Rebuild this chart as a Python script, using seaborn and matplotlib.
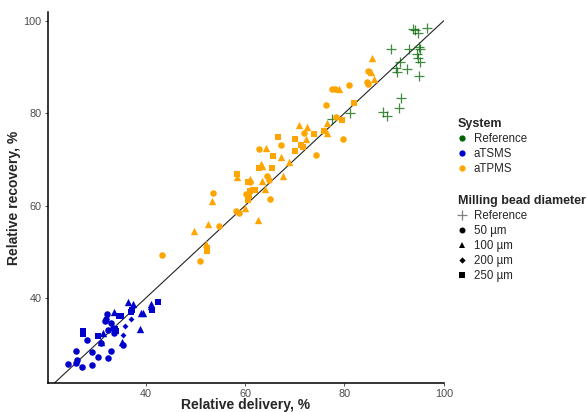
import pandas as pd
import matplotlib
matplotlib.use('Agg')
import matplotlib.pyplot as plt
import seaborn as sns
from matplotlib.lines import Line2D

# Reference system (milling bead: Reference, shown as "+")
ref_delivery = [93.8, 94.3, 94.9, 96.7, 89.4, 92.9, 95.0, 95.3, 94.6, 94.9, 95.3, 91.1,
                90.3, 90.6, 92.6, 95.1, 91.4, 91.0, 87.7, 88.6, 81.2, 77.4]
ref_recovery = [98.2, 97.9, 97.3, 98.4, 93.8, 93.8, 94.3, 93.8, 92.8, 91.9, 91.1, 91.1,
                89.7, 89.0, 89.5, 88.1, 83.2, 81.1, 80.3, 79.4, 80.0, 78.7]

# aTSMS
tsms_delivery = [24.4, 26.0, 26.2, 27.1, 25.9, 29.2, 30.3, 32.4, 29.2, 32.9, 28.2, 31.0,
                 35.3, 32.2, 32.0, 32.9, 33.3, 32.3, 33.6, 31.8,
                 36.4, 41.0, 41.0, 39.5, 33.6, 37.4, 31.3, 38.9, 35.1, 30.9, 39.0,
                 42.5, 41.3, 37.2, 37.1, 34.6, 35.0, 30.4, 34.0, 27.3, 27.3, 33.8,
                 37.0, 35.9, 35.5]
tsms_recovery = [25.7, 25.9, 26.6, 25.0, 28.6, 25.5, 27.3, 27.0, 28.4, 28.6, 31.0, 30.2,
                 29.9, 36.6, 35.4, 34.6, 33.5, 33.1, 32.5, 35.0,
                 39.1, 38.8, 38.3, 36.7, 36.9, 38.6, 32.5, 33.3, 30.4, 30.5, 36.8,
                 39.1, 37.5, 37.5, 37.0, 36.2, 36.1, 31.8, 32.8, 32.9, 32.2, 33.2,
                 35.5, 34.0, 31.9]
tsms_bead = (['50 µm'] * 20 + ['100 µm'] * 11 + ['250 µm'] * 11 + ['200 µm'] * 3)

# aTPMS
tpms_delivery = [43.2, 50.9, 54.8, 53.5, 58.1, 58.8, 60.2, 60.9, 62.8, 64.4, 65.0, 64.9,
                 67.2, 71.8, 74.3, 76.2, 78.2, 79.7, 77.5, 78.0, 81.0, 84.5, 84.8, 84.8,
                 49.6, 52.6, 53.3, 52.2, 58.4, 60.0, 60.9, 64.1, 63.1, 63.4, 62.6, 63.3,
                 63.9, 67.3, 67.6, 68.9, 70.8, 72.5, 72.3, 76.4, 76.5, 78.9, 86.0, 85.6, 85.3,
                 52.4, 52.4, 58.3, 60.5, 60.8, 61.0, 61.6, 62.0, 60.6, 62.7, 65.5, 65.6,
                 66.7, 70.1, 70.1, 71.2, 71.7, 73.8, 75.9, 79.5, 81.9]
tpms_recovery = [49.3, 48.1, 55.5, 62.8, 58.8, 58.4, 62.4, 65.1, 72.3, 66.4, 61.5, 65.5,
                 73.0, 75.7, 70.9, 81.7, 79.1, 74.4, 85.3, 85.3, 86.0, 86.8, 86.2, 89.1,
                 54.5, 56.1, 61.0, 51.6, 66.2, 59.5, 65.7, 72.5, 69.1, 68.6, 56.8, 65.3,
                 63.5, 70.5, 66.3, 69.5, 77.5, 76.9, 74.4, 77.8, 75.8, 85.2, 87.4, 91.9, 88.9,
                 50.8, 50.2, 66.9, 61.3, 62.0, 63.2, 63.4, 63.3, 65.1, 68.2, 68.1, 70.7,
                 74.8, 74.4, 71.8, 73.1, 72.6, 75.4, 76.2, 78.6, 82.3]
tpms_bead = ['50 µm'] * 24 + ['100 µm'] * 25 + ['250 µm'] * 21

systems = ['Reference', 'aTSMS', 'aTPMS']
bead_sizes = ['Reference', '50 µm', '100 µm', '200 µm', '250 µm']
x_ticks = [40, 60, 80, 100]
y_ticks = [40, 60, 80, 100]

df = pd.concat([
    pd.DataFrame({'delivery': ref_delivery, 'recovery': ref_recovery,
                  'system': 'Reference', 'bead': 'Reference'}),
    pd.DataFrame({'delivery': tsms_delivery, 'recovery': tsms_recovery,
                  'system': 'aTSMS', 'bead': tsms_bead}),
    pd.DataFrame({'delivery': tpms_delivery, 'recovery': tpms_recovery,
                  'system': 'aTPMS', 'bead': tpms_bead}),
], ignore_index=True)

sns.set_style('white')
plt.rcParams['font.family'] = ['Liberation Sans', 'DejaVu Sans']

colors = {'Reference': '#006400', 'aTSMS': '#0000CD', 'aTPMS': '#FFA500'}
markers = {'Reference': '+', '50 µm': 'o', '100 µm': '^', '200 µm': 'D', '250 µm': 's'}
sizes = {'Reference': 55, '50 µm': 22, '100 µm': 28, '200 µm': 9, '250 µm': 22}

fig = plt.figure(figsize=(5.87, 4.12), dpi=100)
ax = fig.add_axes([0.0818, 0.0704, 0.6742, 0.9006])

for (sys_name, bead), grp in df.groupby(['system', 'bead'], sort=False):
    if bead == 'Reference':
        sns.scatterplot(data=grp, x='delivery', y='recovery', ax=ax, color=colors[sys_name],
                        marker='+', s=sizes[bead], linewidth=0.9, alpha=0.75, legend=False)
    else:
        sns.scatterplot(data=grp, x='delivery', y='recovery', ax=ax, color=colors[sys_name],
                        marker=markers[bead], s=sizes[bead], linewidth=0, legend=False)

ax.axline((40, 40), (100, 100), color='#222222', lw=0.8, zorder=0)

ax.set_xlim(20.3, 100)
ax.set_ylim(21.6, 101.9)
ax.set_xticks(x_ticks)
ax.set_yticks(y_ticks)
ax.tick_params(axis='both', labelsize=7.8, labelcolor='#4d4d4d', color='#333333',
               length=2.5, width=0.6, pad=2, direction='out', bottom=True, left=True)
for side in ['top', 'right']:
    ax.spines[side].set_visible(False)
for side in ['left', 'bottom']:
    ax.spines[side].set_color('black')
    ax.spines[side].set_linewidth(1.1)
ax.set_xlabel('Relative delivery, %', fontsize=10, fontweight='bold', labelpad=-1)
ax.set_ylabel('Relative recovery, %', fontsize=10, fontweight='bold', labelpad=2)

sys_handles = [Line2D([], [], linestyle='', marker='o', markersize=4.5,
                      markerfacecolor=colors[s], markeredgewidth=0) for s in systems]
leg1 = fig.legend(sys_handles, systems, title='System', loc='upper left',
                  bbox_to_anchor=(0.772, 0.725), frameon=False, fontsize=8.3,
                  title_fontproperties={'weight': 'bold', 'size': 9},
                  handlelength=0.8, handletextpad=0.6, labelspacing=0.25,
                  borderaxespad=0, alignment='left')

bead_handles = []
for b in bead_sizes:
    if b == 'Reference':
        bead_handles.append(Line2D([], [], linestyle='', marker='+', markersize=7,
                                   color='black', alpha=0.5, markeredgewidth=0.9))
    else:
        bead_handles.append(Line2D([], [], linestyle='', marker=markers[b],
                                   markersize=3.2 if b == '200 µm' else 4.3,
                                   markerfacecolor='black', markeredgewidth=0))
leg2 = fig.legend(bead_handles, bead_sizes, title='Milling bead diameter', loc='upper left',
                  bbox_to_anchor=(0.772, 0.537), frameon=False, fontsize=8.3,
                  title_fontproperties={'weight': 'bold', 'size': 9},
                  handlelength=0.8, handletextpad=0.6, labelspacing=0.25,
                  borderaxespad=0, alignment='left')

fig.savefig('out.png', dpi=100)
